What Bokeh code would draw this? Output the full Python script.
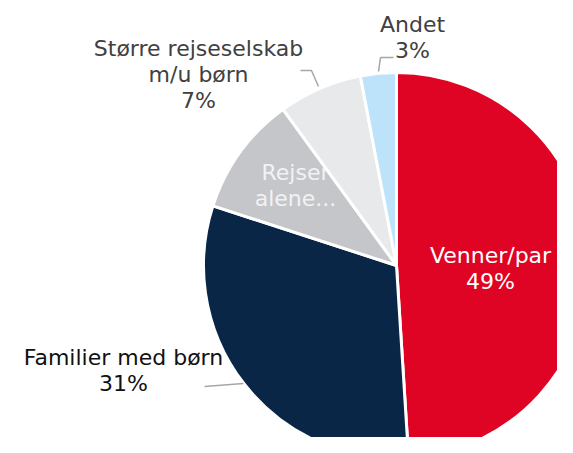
import math
from bokeh.plotting import figure
from bokeh.models import Range1d, ColumnDataSource, CDSView, IndexFilter
from bokeh.core.properties import value
from bokeh.embed import file_html
from bokeh.resources import INLINE

# ---- data ----
categories = ["Venner/par", "Familier med børn", "Rejser alene...", "Større rejseselskab m/u børn", "Andet"]
shares = [49, 31, 10, 7, 3]
colors = ["#E00424", "#0A2647", "#C5C6C9", "#E8E9EB", "#BDE3FA"]

# ---- layout (screen pixel coords, converted below) ----
W, H = 557, 437
SH = 453  # window height used for y conversion


def sy(y):
    return SH - y


cx, cy, R = 396, 265, 193

total = sum(shares)
starts, ends = [], []
cum = 0.0
for s in shares:
    starts.append(math.pi / 2 - 2 * math.pi * cum / total)
    cum += s
    ends.append(math.pi / 2 - 2 * math.pi * cum / total)

src = ColumnDataSource(dict(start=starts, end=ends, color=colors, cat=categories))

p = figure(width=W, height=H, x_range=Range1d(0, W), y_range=Range1d(SH - H, SH),
           output_backend="svg", toolbar_location=None, min_border=0)
p.axis.visible = False
p.grid.visible = False
p.outline_line_color = None
p.background_fill_color = "white"
p.border_fill_color = "white"

FONT = value("DejaVu Sans")
FS = "22px"

wedge_kw = dict(x=cx, y=sy(cy), radius=R, start_angle="start", end_angle="end",
                direction="clock", fill_color="color", line_color="white", line_width=3, source=src)
p.wedge(view=CDSView(filter=IndexFilter([0, 1, 2])), **wedge_kw)

pct = [f"{s}%" for s in shares]
rejser_lines = [("Rejser", 295, 172), ("alene...", 295, 198)]
p.text(x=[l[1] for l in rejser_lines], y=[sy(l[2]) for l in rejser_lines], text=[l[0] for l in rejser_lines],
       text_font=FONT, text_font_size=FS, text_color="#F2F2F3", text_align="center", text_baseline="middle")

p.wedge(view=CDSView(filter=IndexFilter([3, 4])), **wedge_kw)

labels = [
    ("Venner/par", 490, 255, "white"),
    (pct[0], 490, 281, "white"),
    ("Familier med børn", 123, 357, "#111111"),
    (pct[1], 123, 383, "#111111"),
    ("Større rejseselskab", 198, 48, "#404040"),
    ("m/u børn", 198, 74, "#404040"),
    (pct[3], 198, 100, "#404040"),
    ("Andet", 412, 24, "#404040"),
    (pct[4], 412, 50, "#404040"),
]
p.text(x=[l[1] for l in labels], y=[sy(l[2]) for l in labels], text=[l[0] for l in labels],
       text_color=[l[3] for l in labels], text_font=FONT, text_font_size=FS,
       text_align="center", text_baseline="middle")

# leader lines
leaders = [
    ([204, 243], [386, 383]),
    ([300, 311, 318], [70, 70, 86]),
    ([393, 380, 378], [57, 57, 71]),
]
for xs, ys in leaders:
    p.line(xs, [sy(v) for v in ys], line_color="#A6A6A6", line_width=1.5)

open("out.html", "w").write(file_html(p, INLINE))
